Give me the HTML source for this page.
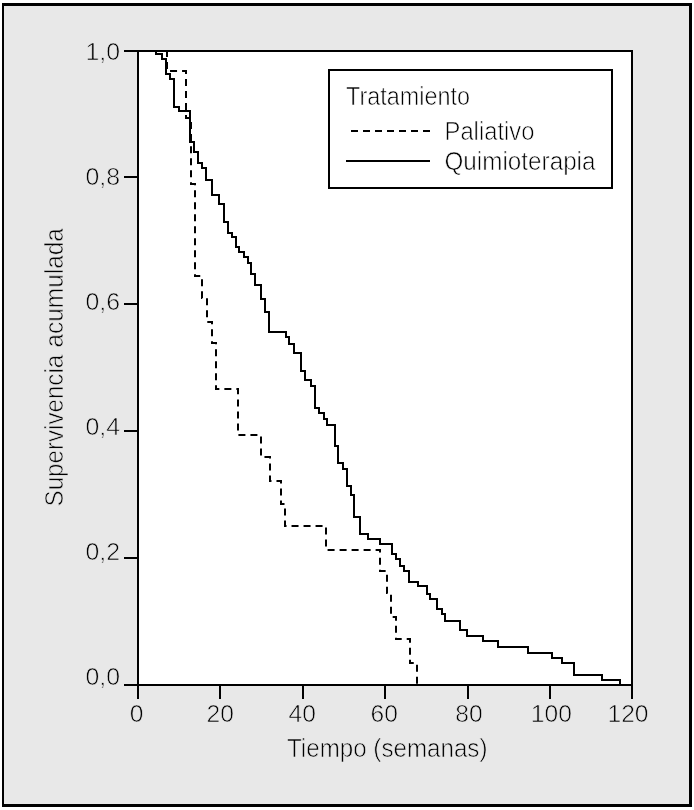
<!DOCTYPE html>
<html lang="es"><head><meta charset="utf-8"><title>Supervivencia acumulada</title>
<style>
html,body{margin:0;padding:0;background:#fff;}
body{width:694px;height:810px;overflow:hidden;}
svg{display:block;}
text{font-family:"Liberation Sans",sans-serif;fill:#000;}
.g text{stroke:#e8e8e8;stroke-width:0.65px;}
.w text{stroke:#fff;stroke-width:0.65px;}
</style></head><body>
<svg width="694" height="810" viewBox="0 0 694 810">
<rect x="0" y="0" width="694" height="810" fill="#fff"/>
<rect x="2" y="3" width="690" height="804" fill="#000"/>
<rect x="4" y="6" width="685" height="798" fill="#e8e8e8"/>
<rect x="138" y="51" width="494" height="634" fill="#fff" stroke="#000" stroke-width="2"/>

<line x1="124" y1="51" x2="138" y2="51" stroke="#000" stroke-width="2"/>
<line x1="124" y1="177" x2="138" y2="177" stroke="#000" stroke-width="2"/>
<line x1="124" y1="304" x2="138" y2="304" stroke="#000" stroke-width="2"/>
<line x1="124" y1="431" x2="138" y2="431" stroke="#000" stroke-width="2"/>
<line x1="124" y1="558" x2="138" y2="558" stroke="#000" stroke-width="2"/>
<line x1="124" y1="685" x2="138" y2="685" stroke="#000" stroke-width="2"/>
<line x1="138" y1="685" x2="138" y2="699" stroke="#000" stroke-width="2"/>
<line x1="220" y1="685" x2="220" y2="699" stroke="#000" stroke-width="2"/>
<line x1="303" y1="685" x2="303" y2="699" stroke="#000" stroke-width="2"/>
<line x1="385" y1="685" x2="385" y2="699" stroke="#000" stroke-width="2"/>
<line x1="468" y1="685" x2="468" y2="699" stroke="#000" stroke-width="2"/>
<line x1="550" y1="685" x2="550" y2="699" stroke="#000" stroke-width="2"/>
<line x1="632" y1="685" x2="632" y2="699" stroke="#000" stroke-width="2"/>
<path d="M138 51 L167 51 L167 71 L186 71 L186 118 L191 118 L191 184 L195 184 L195 276 L202 276 L202 298 L207 298 L207 322 L212 322 L212 343 L216 343 L216 389 L238 389 L238 435 L261 435 L261 457 L270 457 L270 481 L281 481 L281 504 L285 504 L285 526 L326 526 L326 550 L380 550 L380 571 L387 571 L387 593 L391 593 L391 617 L396 617 L396 639 L410 639 L410 663 L417 663 L417 685" fill="none" stroke="#000" stroke-width="2" stroke-dasharray="7 5.01" stroke-dashoffset="8"/>
<path d="M156 51 L156 54 L162 54 L162 59 L166 59 L166 74 L170 74 L170 79 L174 79 L174 107 L179 107 L179 111 L190 111 L190 142 L194 142 L194 152 L198 152 L198 163 L202 163 L202 168 L206 168 L206 180 L212 180 L212 195 L219 195 L219 204 L224 204 L224 222 L228 222 L228 233 L232 233 L232 237 L236 237 L236 247 L239 247 L239 252 L244 252 L244 257 L248 257 L248 263 L251 263 L251 274 L255 274 L255 285 L261 285 L261 299 L265 299 L265 312 L269 312 L269 332 L286 332 L286 337 L289 337 L289 344 L294 344 L294 353 L301 353 L301 371 L305 371 L305 380 L311 380 L311 386 L315 386 L315 408 L319 408 L319 413 L324 413 L324 419 L327 419 L327 425 L335 425 L335 446 L338 446 L338 463 L343 463 L343 469 L347 469 L347 486 L351 486 L351 495 L354 495 L354 517 L360 517 L360 534 L368 534 L368 539 L380 539 L380 544 L392 544 L392 554 L396 554 L396 559 L400 559 L400 566 L404 566 L404 571 L409 571 L409 582 L418 582 L418 586 L427 586 L427 594 L430 594 L430 599 L437 599 L437 609 L442 609 L442 614 L445 614 L445 621 L460 621 L460 630 L467 630 L467 636 L483 636 L483 641 L498 641 L498 647 L528 647 L528 653 L552 653 L552 658 L562 658 L562 663 L574 663 L574 675 L602 675 L602 680 L620 680 L620 685" fill="none" stroke="#000" stroke-width="2" stroke-linejoin="miter"/>
<rect x="329" y="70" width="283" height="118" fill="#fff" stroke="#000" stroke-width="2"/>
<line x1="351" y1="131" x2="430" y2="131" stroke="#000" stroke-width="2" stroke-dasharray="7 5"/>
<line x1="346" y1="161" x2="430" y2="161" stroke="#000" stroke-width="2"/>
<g class="w">
<text x="346" y="104.5" font-size="25.2" textLength="124" lengthAdjust="spacingAndGlyphs">Tratamiento</text>
<text x="444.5" y="139.7" font-size="25.2" textLength="90" lengthAdjust="spacingAndGlyphs">Paliativo</text>
<text x="444.5" y="170" font-size="25.2" textLength="151" lengthAdjust="spacingAndGlyphs">Quimioterapia</text>
</g>
<g class="g">
<text x="85.4" y="60" font-size="24.2" textLength="34.6" lengthAdjust="spacingAndGlyphs">1,0</text>
<text x="85.4" y="185" font-size="24.2" textLength="34.6" lengthAdjust="spacingAndGlyphs">0,8</text>
<text x="85.4" y="310" font-size="24.2" textLength="34.6" lengthAdjust="spacingAndGlyphs">0,6</text>
<text x="85.4" y="435" font-size="24.2" textLength="34.6" lengthAdjust="spacingAndGlyphs">0,4</text>
<text x="85.4" y="560" font-size="24.2" textLength="34.6" lengthAdjust="spacingAndGlyphs">0,2</text>
<text x="85.4" y="685" font-size="24.2" textLength="34.6" lengthAdjust="spacingAndGlyphs">0,0</text>
<text x="136.65" y="722.3" font-size="24.6" text-anchor="middle">0</text>
<text x="220.2" y="722.3" font-size="24.6" text-anchor="middle">20</text>
<text x="302.3" y="722.3" font-size="24.6" text-anchor="middle">40</text>
<text x="384.2" y="722.3" font-size="24.6" text-anchor="middle">60</text>
<text x="468.95" y="722.3" font-size="24.6" text-anchor="middle">80</text>
<text x="551.35" y="722.3" font-size="24.6" text-anchor="middle">100</text>
<text x="628.05" y="722.3" font-size="24.6" text-anchor="middle">120</text>
<text x="287" y="757" font-size="25.2" textLength="200.5" lengthAdjust="spacingAndGlyphs">Tiempo (semanas)</text>
<text transform="translate(62.8,506.4) rotate(-90)" x="0" y="0" font-size="25.5" textLength="151.6" lengthAdjust="spacingAndGlyphs">Supervivencia</text>
<text transform="translate(62.8,347.6) rotate(-90)" x="0" y="0" font-size="25.5" textLength="119.5" lengthAdjust="spacingAndGlyphs">acumulada</text>
</g>
</svg></body></html>
